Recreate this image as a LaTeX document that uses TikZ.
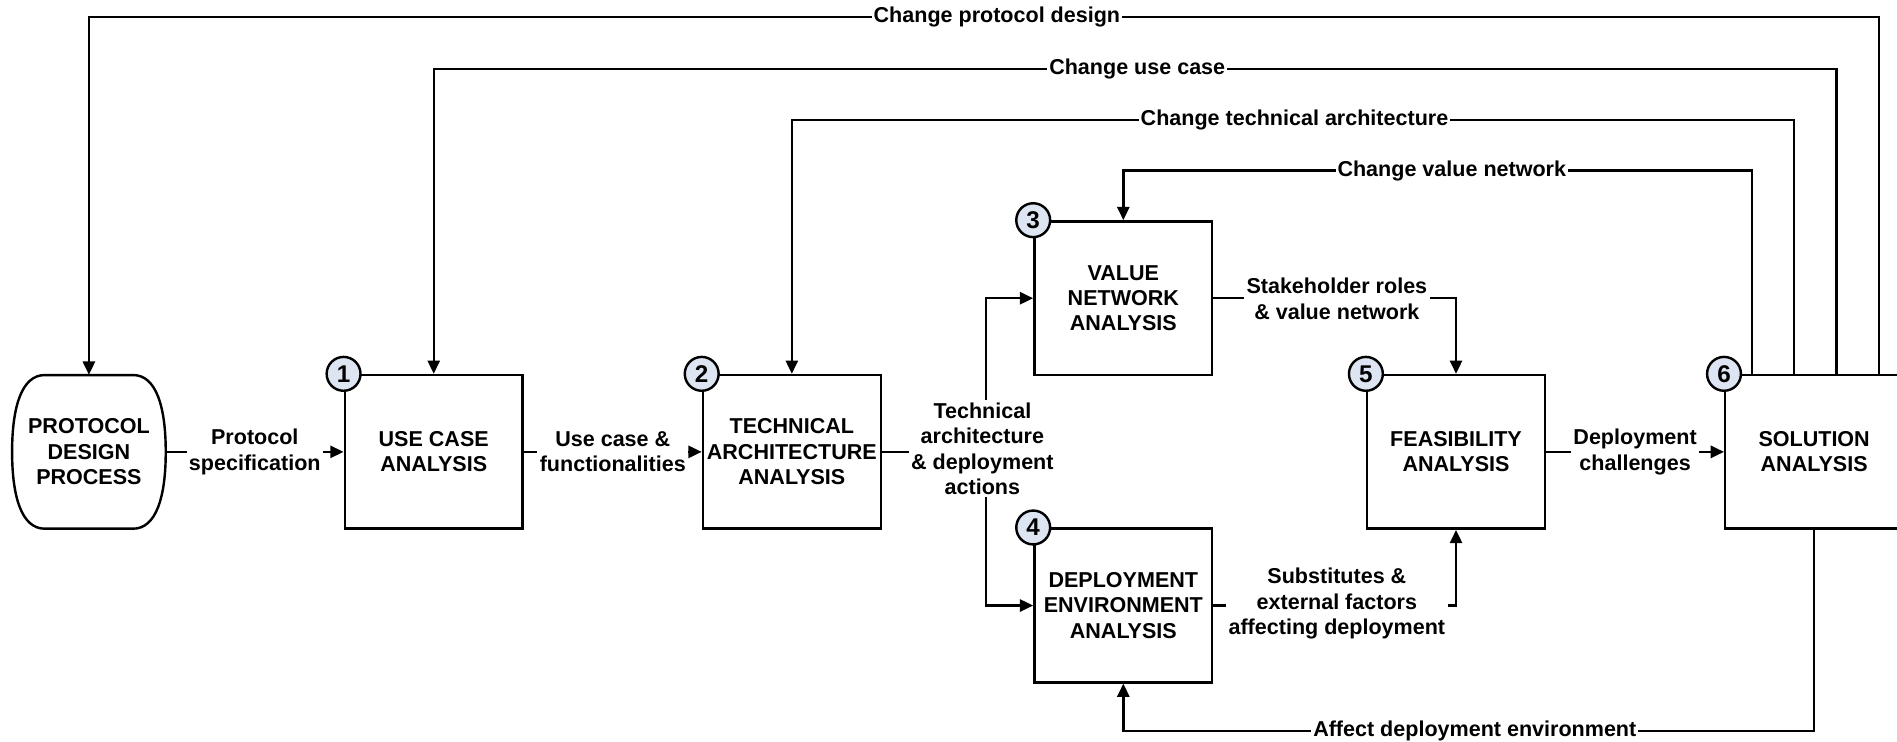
\documentclass[tikz,border=0pt]{standalone}
\usepackage{fontspec}
\setmainfont{Liberation Sans}
\usetikzlibrary{arrows.meta,calc}
\definecolor{circfill}{RGB}{221,228,242}
\begin{document}
\begin{tikzpicture}[x=1pt,y=-1pt,
  every node/.style={font=\bfseries\fontsize{17.8}{21}\selectfont},
  box/.style={draw,line width=2pt,minimum width=147pt,minimum height=127pt,align=center,inner sep=0pt},
  num/.style={circle,draw,line width=2pt,fill=circfill,minimum size=28pt,inner sep=0pt,font=\bfseries\fontsize{20}{20}\selectfont},
  lbl/.style={fill=white,align=center,inner sep=2pt},
  tlbl/.style={fill=white,inner xsep=1.5pt,inner ysep=1pt},
  arr/.style={line width=2pt,-{Triangle[length=11pt,width=10pt]}}]
\useasboundingbox (0,0) rectangle (1568,613);

% protocol design process (rounded barrel shape)
\node[minimum width=127pt,minimum height=127pt,align=center,inner sep=0pt] (pd) at (73.5,373.5) {PROTOCOL\\DESIGN\\PROCESS};
\draw[line width=2pt] (37,310) -- (110,310) .. controls (129,310) and (137,336) .. (137,373.5)
  .. controls (137,411) and (129,437) .. (110,437) -- (37,437)
  .. controls (18,437) and (10,411) .. (10,373.5) .. controls (10,336) and (18,310) .. (37,310) -- cycle;

% boxes
\node[box] (uc) at (358.5,373.5) {USE CASE\\ANALYSIS};
\node[box] (ta) at (654.5,373.5) {TECHNICAL\\ARCHITECTURE\\ANALYSIS};
\node[box] (vn) at (928.5,246.5) {VALUE\\NETWORK\\ANALYSIS};
\node[box] (de) at (928.5,500.5) {DEPLOYMENT\\ENVIRONMENT\\ANALYSIS};
\node[box] (fe) at (1203.5,373.5) {FEASIBILITY\\ANALYSIS};
\node[box] (so) at (1499.5,373.5) {SOLUTION\\ANALYSIS};

% straight connectors
\draw[arr] (pd.east) -- node[lbl]{Protocol\\specification} (uc.west);
\draw[arr] (uc.east) -- node[lbl]{Use case \&\\functionalities} (ta.west);
\draw[arr] (fe.east) -- node[lbl]{Deployment\\challenges} (so.west);

% technical architecture branch
\coordinate (br) at (815,373.5);
\draw[arr] (ta.east) -- (br) |- (vn.west);
\draw[arr] (br) |- (de.west);
\node[lbl] (talbl) at (812,371) {Technical\\architecture\\\& deployment\\actions};

% to feasibility
\draw[arr] (vn.east) -| (fe.north);
\node[lbl] (stlbl) at (1105,247) {Stakeholder roles\\\& value network};
\draw[arr] (de.east) -| (fe.south);
\node[lbl] (sublbl) at (1105,499) {Substitutes \&\\external factors\\affecting deployment};

% feedback loops
\draw[arr] ([xshift=53.5pt]so.north) |- (824,14) node[tlbl]{Change protocol design} -| (pd.north);
\draw[arr] ([xshift=18.5pt]so.north) |- (940,57) node[tlbl]{Change use case} -| (uc.north);
\draw[arr] ([xshift=-16.5pt]so.north) |- (1070,99) node[tlbl]{Change technical architecture} -| (ta.north);
\draw[arr] ([xshift=-51.5pt]so.north) |- (1200,141) node[tlbl]{Change value network} -| (vn.north);
\draw[arr] (so.south) |- (1219,604) node[tlbl]{Affect deployment environment} -| (de.south);

% numbered circles
\node[num] (n1) at (uc.north west) {1};
\node[num] (n2) at (ta.north west) {2};
\node[num] (n3) at (vn.north west) {3};
\node[num] (n4) at (de.north west) {4};
\node[num] (n5) at (fe.north west) {5};
\node[num] (n6) at (so.north west) {6};
\end{tikzpicture}
\end{document}
